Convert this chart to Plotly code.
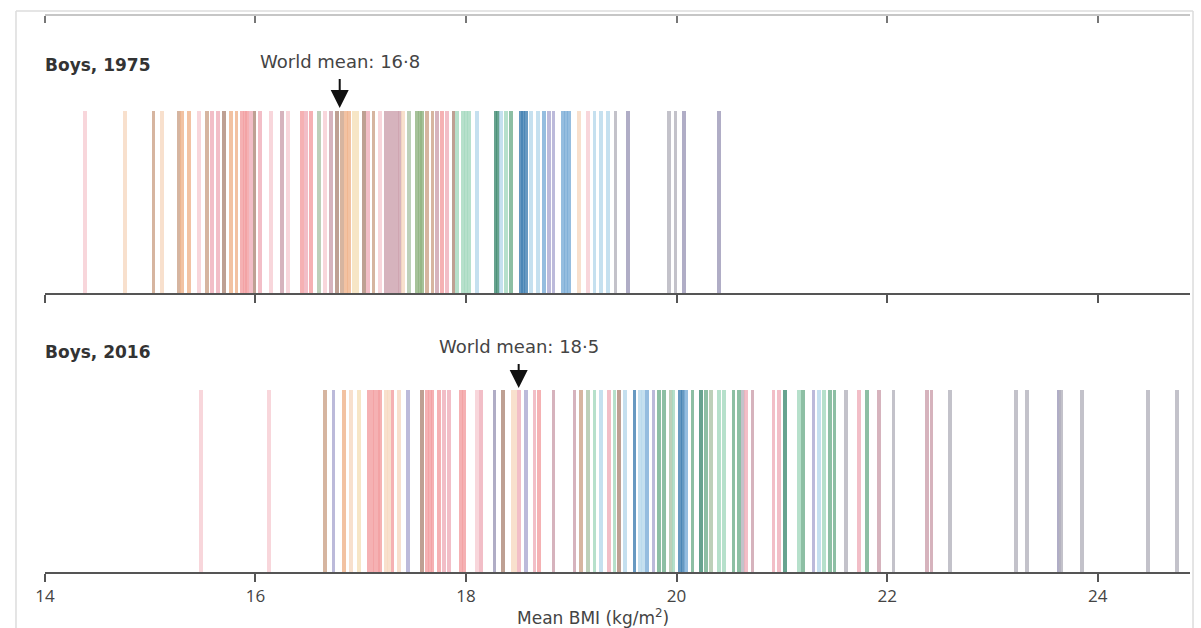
import plotly.graph_objects as go

# Mean BMI per country, boys, with each country's region code
bmi_1975 = [14.38, 14.76, 15.03, 15.11, 15.27, 15.30, 15.37, 15.46, 15.54, 15.59,
            15.64, 15.70, 15.77, 15.82, 15.87, 15.90, 15.92, 15.96, 15.99, 16.04,
            16.15, 16.25, 16.31, 16.44, 16.48, 16.53, 16.60, 16.66, 16.72, 16.77,
            16.82, 16.86, 16.89, 16.93, 16.96, 17.03, 17.07, 17.12, 17.18, 17.24,
            17.28, 17.31, 17.34, 17.37, 17.40, 17.46, 17.53, 17.56, 17.58, 17.63,
            17.68, 17.72, 17.77, 17.82, 17.88, 17.91, 17.97, 18.00, 18.03, 18.10,
            18.28, 18.30, 18.33, 18.38, 18.43, 18.52, 18.54, 18.57, 18.62, 18.68,
            18.74, 18.79, 18.83, 18.92, 18.95, 18.98, 19.07, 19.16, 19.22, 19.28,
            19.35, 19.42, 19.54, 19.93, 19.99, 20.07, 20.40]
region_1975 = ["EA", "NA", "CS", "NA", "CS", "SA", "SA", "EA", "CS", "WA",
               "WA", "ME", "SA", "SA", "CA", "CA", "CA", "WA", "ME", "WA",
               "EA", "SF", "EA", "CA", "WA", "CA", "AL", "EA", "SF", "ME",
               "CS", "SA", "SA", "SE", "SE", "ME", "WA", "CS", "EA", "SF",
               "SF", "SF", "SF", "SF", "NA", "AL", "EAs", "EAs", "EAs", "CS",
               "CS", "SF", "CA", "WA", "ME", "CB", "CB", "CB", "CB", "CE",
               "CL", "CL", "CE", "CB", "SL", "EE", "EE", "EE", "CE", "CE",
               "NW", "SW", "SW", "NW", "NW", "NW", "NA", "EA", "CE", "CE",
               "CE", "PM", "ML", "PM", "PM", "ML", "ML"]

bmi_2016 = [15.48, 16.13, 16.66, 16.74, 16.84, 16.91, 16.98, 17.08, 17.11, 17.13,
            17.16, 17.18, 17.24, 17.27, 17.30, 17.36, 17.45, 17.58, 17.63, 17.66,
            17.68, 17.74, 17.79, 17.84, 17.95, 17.98, 18.10, 18.14, 18.27, 18.35,
            18.44, 18.47, 18.50, 18.57, 18.65, 18.69, 18.83, 19.03, 19.09, 19.16,
            19.22, 19.28, 19.36, 19.41, 19.45, 19.51, 19.60, 19.65, 19.68, 19.72,
            19.78, 19.83, 19.88, 19.95, 19.97, 20.03, 20.06, 20.09, 20.15, 20.23,
            20.28, 20.33, 20.40, 20.45, 20.54, 20.59, 20.63, 20.66, 20.72, 20.92,
            20.97, 21.03, 21.16, 21.20, 21.30, 21.35, 21.40, 21.46, 21.50, 21.61,
            21.73, 21.81, 21.92, 22.06, 22.38, 22.42, 22.60, 23.22, 23.33, 23.63,
            23.65, 23.85, 24.48, 24.75]
region_2016 = ["EA", "EA", "CS", "SW", "SA", "NA", "SE", "CA", "CA", "CA",
               "CA", "CA", "NA", "NA", "CA", "NA", "SW", "ME", "CA", "CA",
               "CA", "CA", "WA", "WA", "CA", "CA", "EA", "WA", "ML", "ME",
               "NA", "NA", "WA", "SW", "WA", "CA", "SF", "SF", "CS", "AL",
               "CB", "CE", "WA", "CB", "ME", "CE", "EE", "CE", "CE", "NW",
               "SW", "SL", "SL", "AL", "CB", "EE", "EE", "NW", "SL", "CL",
               "SL", "AL", "CB", "CB", "SL", "SL", "PM", "WA", "SF", "WA",
               "WA", "CL", "CB", "SL", "SW", "CE", "CB", "SL", "SL", "PM",
               "WA", "SL", "SF", "PM", "SF", "SF", "PM", "PM", "PM", "ML",
               "PM", "PM", "PM", "PM"]

world_mean_1975 = 16.8
world_mean_2016 = 18.5
tick_values = [14, 16, 18, 20, 22, 24]

# Region colour key
region_colors = {
    "CA": "#f3a0a2",   # Central Africa
    "EA": "#f6cdd3",   # East Africa
    "SF": "#cda2ae",   # Southern Africa
    "WA": "#efb0bb",   # West Africa
    "SA": "#efb48e",   # South Asia
    "CS": "#cda58b",   # Central Asia
    "ME": "#b08b7b",   # Middle East
    "NA": "#f7d9c2",   # North Africa
    "SE": "#f5e1b9",   # Southeast Asia
    "EAs": "#93b582",  # East Asia
    "AL": "#afc6aa",   # Andean Latin America
    "CB": "#a6d9c0",   # Caribbean
    "CL": "#468f76",   # Central Latin America
    "SL": "#74b190",   # Southern Latin America
    "CE": "#b8d9ec",   # Central Europe
    "EE": "#4683b3",   # Eastern Europe
    "NW": "#7eafd8",   # Northwestern Europe
    "SW": "#adabd2",   # Southwestern Europe
    "PM": "#b6b5be",   # Polynesia and Micronesia
    "ML": "#9f9bba",   # Melanesia
}

W, H = 1201, 628
# the page puts the plot 8 px in from the left, 1193 px wide
OFF, PW = 8, 1193
X0, X1 = 43, 1190
PX_PER_UNIT = 105.45
x_range = [14, 14 + (X1 - X0) / PX_PER_UNIT]
Y_TOP = 1.1          # headroom above the bars so the arrow tips stay in range
BAR_PX = 182         # bar height in pixels


def px(x):
    return (x - OFF) / PW


def py(y):
    return 1 - y / H


def y_domain(axis_px):
    return [py(axis_px), py(axis_px - BAR_PX * Y_TOP)]


fig = go.Figure()

bar_w = 0.036
for vals, regs, xa, ya in [(bmi_1975, region_1975, "x", "y"),
                           (bmi_2016, region_2016, "x2", "y2")]:
    fig.add_trace(go.Bar(
        x=vals, y=[1] * len(vals), width=[bar_w] * len(vals),
        marker=dict(color=[region_colors[r] for r in regs], line_width=0, opacity=0.82),
        xaxis=xa, yaxis=ya, showlegend=False, hoverinfo="x",
    ))

# empty trace so the top edge axis gets drawn
fig.add_trace(go.Scatter(x=[None], y=[None], xaxis="x3", yaxis="y3",
                         showlegend=False, hoverinfo="skip"))

axis_common = dict(
    range=x_range, domain=[px(X0), px(X1)],
    showline=True, linecolor="#555555", linewidth=1.5,
    ticks="outside", ticklen=8, tickwidth=2, tickcolor="#555555",
    tickvals=tick_values, showgrid=False, zeroline=False, fixedrange=True,
)
y_common = dict(range=[0, Y_TOP], visible=False, fixedrange=True)

fig.update_layout(
    width=W, height=H,
    margin=dict(l=0, r=0, t=0, b=0),
    paper_bgcolor="white", plot_bgcolor="rgba(0,0,0,0)",
    barmode="overlay", bargap=0,
    font=dict(family="DejaVu Sans, sans-serif", color="#333333"),
    xaxis=dict(axis_common, anchor="y", showticklabels=False),
    yaxis=dict(y_common, domain=y_domain(293)),
    xaxis2=dict(axis_common, anchor="y2", showticklabels=True,
                tickfont=dict(family="Liberation Sans Narrow, Open Sans, sans-serif",
                              size=17, color="#444444")),
    yaxis2=dict(y_common, domain=y_domain(572)),
    # axis line running along the top edge
    xaxis3=dict(range=x_range, domain=[px(X0), px(X1)], anchor="y3",
                showline=True, linecolor="#c6c6c6", linewidth=2,
                ticks="outside", ticklen=7, tickwidth=2, tickcolor="#777777",
                tickvals=tick_values, showticklabels=False, showgrid=False,
                zeroline=False, fixedrange=True),
    yaxis3=dict(domain=[py(14), py(12)], range=[0, 1], visible=False, fixedrange=True),
)

# frame
frame = dict(type="line", xref="paper", yref="paper",
             line=dict(color="#dcdcdc", width=1.5))
fig.add_shape(frame, x0=px(14), x1=px(14), y0=0, y1=py(11))
fig.add_shape(frame, x0=px(14), x1=px(1193), y0=py(11), y1=py(11))
fig.add_shape(frame, x0=px(1193), x1=px(1193), y0=0, y1=py(11))

# panel titles
for label, ytxt in [("<b>Boys, 1975</b>", 65), ("<b>Boys, 2016</b>", 352)]:
    fig.add_annotation(text=label, xref="paper", yref="paper",
                       x=px(X0 - 2), y=py(ytxt), xanchor="left", yanchor="middle",
                       showarrow=False, font=dict(size=17, color="#333333"))

# world mean labels with arrows pointing at the bar tops
for mean, xref, yref, tip, ay in [(world_mean_1975, "x", "y", 1.017, -46),
                                  (world_mean_2016, "x2", "y2", 1.011, -41)]:
    label = f"World mean: {mean:.1f}".replace(".", "·")
    fig.add_annotation(text=label, xref=xref, yref=yref, x=mean, y=tip,
                       ax=0, ay=ay, showarrow=True, arrowhead=2,
                       arrowsize=1.8, arrowwidth=2, arrowcolor="#111111",
                       startstandoff=5, font=dict(size=18, color="#444444"))

fig.add_annotation(text="Mean BMI (kg/m<sup>2</sup>)", xref="paper", yref="paper",
                   x=px(592), y=py(617), xanchor="center", yanchor="middle",
                   showarrow=False, font=dict(size=17, color="#444444"))

fig.write_html("out.html")
